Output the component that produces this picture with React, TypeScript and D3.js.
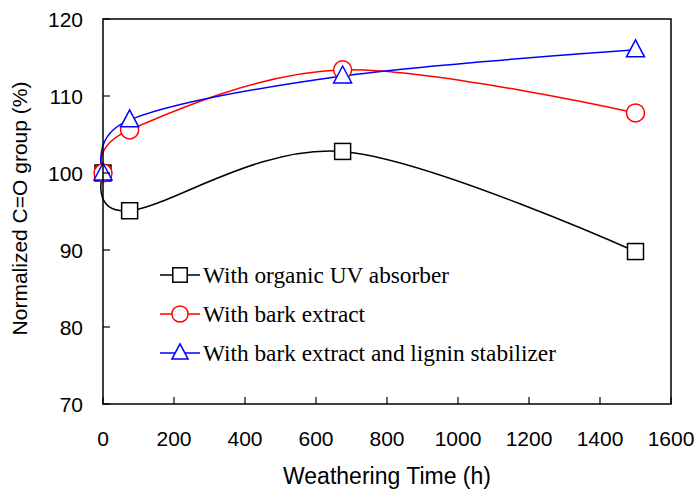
import React from "react";
import * as d3 from "d3";

const times = [0, 75, 675, 1500];
const organicUV = [100, 95.1, 102.8, 89.8];
const barkExtract = [100, 105.6, 113.4, 107.8];
const barkLignin = [100, 106.9, 112.6, 116.0];
const xTicks = [0, 200, 400, 600, 800, 1000, 1200, 1400, 1600];
const yTicks = [70, 80, 90, 100, 110, 120];
const seriesNames = [
  "With organic UV absorber",
  "With bark extract",
  "With bark extract and lignin stabilizer",
];

const W = 699, H = 491;
const left = 103, right = 671, top = 19, bottom = 404;

export default function App() {
  const x = d3.scaleLinear().domain([0, 1600]).range([left, right]);
  const y = d3.scaleLinear().domain([70, 120]).range([bottom, top]);
  const line = d3
    .line<[number, number]>()
    .x((d) => x(d[0]))
    .y((d) => y(d[1]))
    .curve(d3.curveCardinal.tension(0));

  const series = [
    { name: seriesNames[0], vals: organicUV, color: "#000000", marker: "square" },
    { name: seriesNames[1], vals: barkExtract, color: "#ff0000", marker: "circle" },
    { name: seriesNames[2], vals: barkLignin, color: "#0000ff", marker: "triangle" },
  ];

  const marker = (type: string, cx: number, cy: number, color: string, key?: any, sc = 1) => {
    if (type === "square")
      return <rect key={key} x={cx - 8 * sc} y={cy - 8 * sc} width={16 * sc} height={16 * sc} fill="white" stroke={color} strokeWidth={1.5} />;
    if (type === "circle")
      return <circle key={key} cx={cx} cy={cy} r={9 * sc} fill="white" stroke={color} strokeWidth={1.5} />;
    const s = 9 * sc;
    return (
      <path
        key={key}
        d={`M${cx},${cy - s - 1}L${cx + s},${cy + s - 2}L${cx - s},${cy + s - 2}Z`}
        fill="white"
        stroke={color}
        strokeWidth={1.5}
      />
    );
  };

  const font = "'Liberation Sans', Arial, sans-serif";
  const serif = "'Liberation Serif', 'Times New Roman', serif";

  return (
    <svg width={W} height={H} style={{ position: "absolute", left: 0, top: 0, background: "white" }}>
      <rect x={0} y={0} width={W} height={H} fill="white" />
      {series.map((s, i) => (
        <path
          key={"l" + i}
          d={line(times.map((t, j) => [t, s.vals[j]]) as [number, number][]) || ""}
          fill="none"
          stroke={s.color}
          strokeWidth={1.5}
        />
      ))}
      {series.map((s, i) =>
        times.map((t, j) => marker(s.marker, x(t), y(s.vals[j]), s.color, `m${i}-${j}`))
      )}
      <rect x={left} y={top} width={right - left} height={bottom - top} fill="none" stroke="black" strokeWidth={1.5} />
      {xTicks.map((t) => (
        <g key={"xt" + t}>
          <line x1={x(t)} x2={x(t)} y1={bottom} y2={bottom - 7} stroke="black" strokeWidth={1.2} />
          <text x={x(t)} y={446} textAnchor="middle" fontFamily={font} fontSize={21} fill="black">
            {t}
          </text>
        </g>
      ))}
      {yTicks.map((t) => (
        <g key={"yt" + t}>
          <line x1={left} x2={left + 7} y1={y(t)} y2={y(t)} stroke="black" strokeWidth={1.2} />
          <text x={83} y={y(t) + 7.5} textAnchor="end" fontFamily={font} fontSize={21} fill="black">
            {t}
          </text>
        </g>
      ))}
      <text x={387} y={484} textAnchor="middle" fontFamily={font} fontSize={23} fill="black">
        Weathering Time (h)
      </text>
      <text
        transform={`translate(27,${(top + bottom) / 2 - 3}) rotate(-90)`}
        textAnchor="middle"
        fontFamily={font}
        fontSize={21}
        fill="black"
      >
        Normalized C=O group (%)
      </text>
      {series.map((s, i) => {
        const ly = 275 + i * 39;
        return (
          <g key={"lg" + i}>
            <line x1={160} x2={200} y1={ly} y2={ly} stroke={s.color} strokeWidth={1.5} />
            {marker(s.marker, 180, ly, s.color, undefined, 0.9)}
            <text x={203} y={ly + 7.5} fontFamily={serif} fontSize={23.3} fill="black">
              {s.name}
            </text>
          </g>
        );
      })}
    </svg>
  );
}
